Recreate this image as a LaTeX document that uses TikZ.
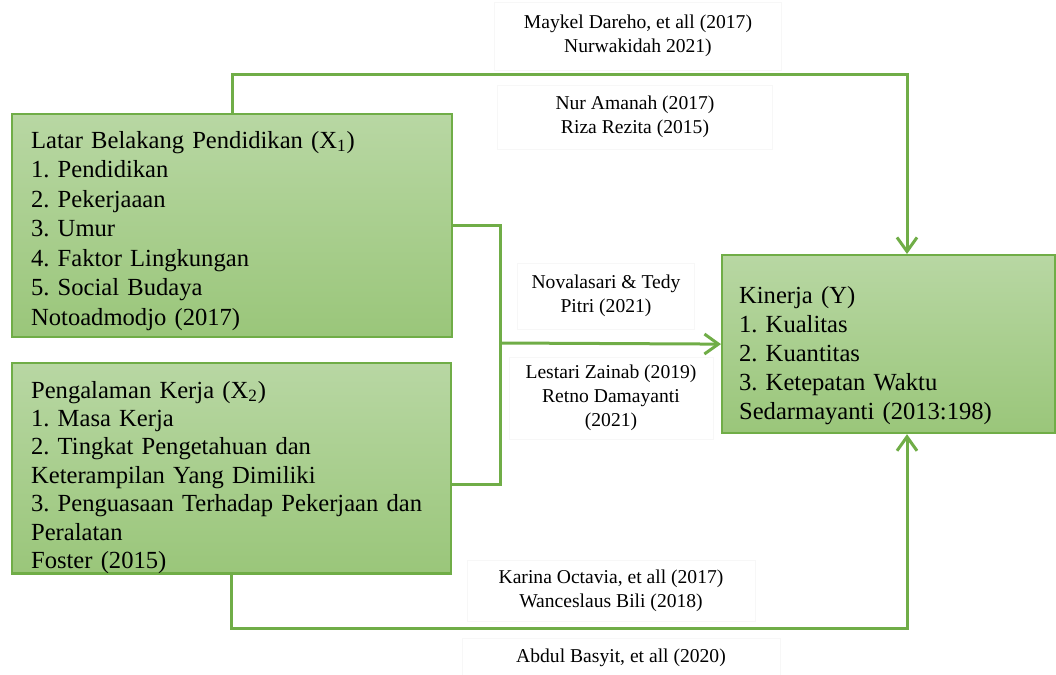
\documentclass[tikz,border=0pt]{standalone}
\usepackage{fontspec}
\setmainfont{Liberation Serif}
\usetikzlibrary{arrows.meta}
\frenchspacing

\definecolor{vert}{RGB}{112,173,71}
\definecolor{verthaut}{RGB}{184,215,163}
\definecolor{vertbas}{RGB}{154,198,122}

\tikzset{
  boite/.style={draw=vert, line width=1.1pt, top color=verthaut, bottom color=vertbas,
    anchor=north west, align=left, inner xsep=9.5pt, inner ysep=2pt},
  ref/.style={draw=black!3, fill=white, align=center, inner sep=1pt,
    font=\fontsize{9.8}{12}\selectfont},
  lien/.style={draw=vert, line width=1.5pt},
  fleche/.style={lien, -{Straight Barb[length=7pt,width=10pt]}}
}

\begin{document}
\begin{tikzpicture}[x=0.5pt, y=-0.5pt]
  \useasboundingbox (0,0) rectangle (1056,675);

  % Variables
  \node[boite, text width=201pt, text height=15pt, text depth=92.5pt,
    font=\fontsize{12.3}{14.75}\selectfont] (x1) at (11,113)
    {Latar Belakang Pendidikan (X\textsubscript{1})\\1. Pendidikan\\2. Pekerjaaan\\3. Umur\\4. Faktor Lingkungan\\5. Social Budaya\\Notoadmodjo (2017)};
  \node[boite, text width=200.5pt, text height=15.5pt, text depth=85.7pt,
    font=\fontsize{12.3}{14.2}\selectfont] (x2) at (11,362)
    {Pengalaman Kerja (X\textsubscript{2})\\1. Masa Kerja\\2. Tingkat Pengetahuan dan\\Keterampilan Yang Dimiliki\\3. Penguasaan Terhadap Pekerjaan dan\\Peralatan\\Foster (2015)};
  \node[boite, inner xsep=8.5pt, text width=149.5pt, text height=22pt, text depth=63pt,
    font=\fontsize{12.3}{14.5}\selectfont] (y) at (721,254)
    {Kinerja (Y)\\1. Kualitas\\2. Kuantitas\\3. Ketepatan Waktu\\Sedarmayanti (2013:198)};

  % Rujukan
  \node[ref, minimum width=143.5pt, minimum height=34pt] (r1) at (638,36)
    {Maykel Dareho, et all (2017)\\Nurwakidah 2021)};
  \node[ref, minimum width=137.5pt, minimum height=32pt] (r2) at (635,117)
    {Nur Amanah (2017)\\Riza Rezita (2015)};
  \node[ref, minimum width=88.5pt, minimum height=33pt] (r3) at (606,296)
    {Novalasari \& Tedy\\Pitri (2021)};
  \node[ref, minimum width=102pt, minimum height=41pt] (r4) at (611,398)
    {Lestari Zainab (2019)\\Retno Damayanti\\(2021)};
  \node[ref, minimum width=144pt, minimum height=30.5pt] (r5) at (611,591)
    {Karina Octavia, et all (2017)\\Wanceslaus Bili (2018)};
  \node[ref, minimum width=159pt, minimum height=20pt] (r6) at (621,658)
    {Abdul Basyit, et all (2020)};

  % Garis
  \coordinate (haut) at (907,74);
  \coordinate (bas) at (907,628);
  \coordinate (mj) at (500,343);
  \draw[fleche] (x1.north) |- (haut) -- (haut |- y.north);
  \draw[fleche] (x2.south) |- (bas) -- (bas |- y.south);
  \draw[lien] (x1.east) -| (mj);
  \draw[lien] ([yshift=-8pt]x2.east) -| (mj);
  \draw[fleche] (mj) -- (y.west);
\end{tikzpicture}
\end{document}
